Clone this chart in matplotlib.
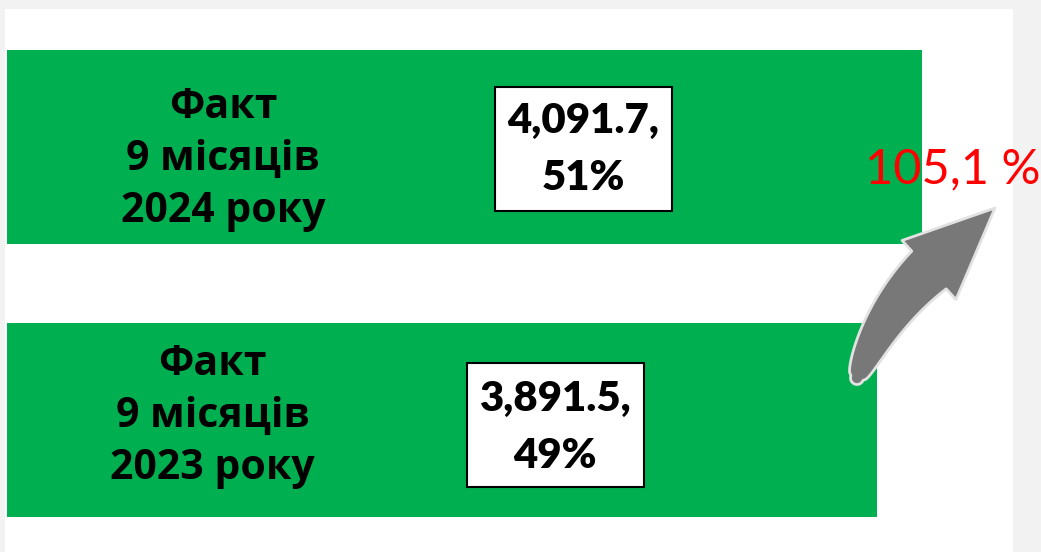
import numpy as np
import matplotlib
matplotlib.use('Agg')
import matplotlib.pyplot as plt
from matplotlib import font_manager as fm
from matplotlib.patches import Rectangle, Polygon
from matplotlib.transforms import Affine2D, ScaledTranslation

# ---------------- data ----------------
categories = ["Факт\n9 місяців\n2024 року", "Факт\n9 місяців\n2023 року"]
values = [4091.7, 3891.5]

total = sum(values)
shares = [round(v / total * 100) for v in values]
value_labels = [f"{v:,.1f},\n{s}%" for v, s in zip(values, shares)]
growth = values[0] / values[1] * 100
growth_label = f"{growth:.1f}".replace('.', ',') + " %"


def font_by_file(basenames, family, weight):
    for b in basenames:
        for f in fm.fontManager.ttflist:
            if f.fname.split('/')[-1] == b:
                return fm.FontProperties(fname=f.fname)
    return fm.FontProperties(family=family, weight=weight)


lato_bold = font_by_file(['Lato-ExtraBold.ttf', 'Lato-Heavy.ttf'], 'Lato', 'bold')
opensans_bold = font_by_file(['OpenSans-Bold.ttf'], 'Open Sans', 'bold')
lato_reg = font_by_file(['Lato-Regular.ttf'], 'Lato', 'normal')

# ---------------- layout / style ----------------
W, H = 1041, 552
GREEN = '#00B050'
fig = plt.figure(figsize=(W / 100, H / 100), dpi=100, facecolor='#f2f2f2')
ax = fig.add_axes([5 / W, 0, 1008 / W, 543 / H])
ax.set_facecolor('white')

ypos = [1, 0]
ax.barh(ypos, values, height=0.711, color=GREEN, zorder=2)
ax.set_xlim(-8.94, 4498.5)
ax.set_ylim(-0.4835, 1.5055)
for s in ax.spines.values():
    s.set_visible(False)
ax.set_xticks([])
ax.set_yticks([])

label_frac, value_frac = 0.236, 0.63
label_dy = [-75, -59]
value_dy = [-43, -48]
box_dy = [-2, -5]
box_w, box_h = 177, 124

for i in range(len(values)):
    fp = opensans_bold.copy()
    fp.set_size(29.5)
    ax.annotate(categories[i], xy=(values[i] * label_frac, ypos[i]),
                xytext=(0, label_dy[i]), textcoords='offset pixels',
                ha='center', va='baseline', multialignment='center',
                fontproperties=fp, linespacing=1.36, color='black', zorder=4)
    cx = values[i] * value_frac
    rect = Rectangle((-box_w / 2, -box_h / 2), box_w, box_h,
                     transform=Affine2D().translate(0, box_dy[i]) +
                     ScaledTranslation(cx, ypos[i], ax.transData),
                     facecolor='white', edgecolor='black', linewidth=1.5, zorder=3)
    ax.add_patch(rect)
    fp2 = lato_bold.copy()
    fp2.set_size(30.2)
    ax.annotate(value_labels[i], xy=(cx, ypos[i]),
                xytext=(0, value_dy[i]), textcoords='offset pixels',
                ha='center', va='baseline', multialignment='center',
                fontproperties=fp2, linespacing=1.62, color='black', zorder=4)

# ---------------- curved arrow (decoration) ----------------
T = np.array([857., 378.])
C = np.array([883., 312.])
N = np.array([929., 270.])
TIP = np.array([995., 208.])
ts = np.linspace(0, 1, 60)
B = ((1 - ts) ** 2)[:, None] * T + (2 * ts * (1 - ts))[:, None] * C + (ts ** 2)[:, None] * N
D = (2 * (1 - ts))[:, None] * (C - T) + (2 * ts)[:, None] * (N - C)
D /= np.linalg.norm(D, axis=1)[:, None]
Nrm = np.stack([D[:, 1], -D[:, 0]], axis=1)
w = 13 + 38 * np.sqrt(ts)
left = B + Nrm * (w / 2)[:, None]
right = B - Nrm * (w / 2)[:, None]
nN = Nrm[-1]
cl = N + nN * 40
cr = N - nN * 40
r0 = w[0] / 2
ang = np.linspace(0, np.pi, 15)
cap = T + r0 * (np.cos(ang)[:, None] * Nrm[0] + np.sin(ang)[:, None] * (-D[0]))
pts = np.vstack([right, [cr], [TIP], [cl], left[::-1], cap])
pts_fig = np.column_stack([pts[:, 0] / W, 1 - pts[:, 1] / H])
arrow = Polygon(pts_fig, closed=True, transform=fig.transFigure,
                facecolor='#787878', edgecolor='#e2e2e2', linewidth=2,
                joinstyle='round', zorder=5)
fig.add_artist(arrow)

fp3 = lato_reg.copy()
fp3.set_size(35)
fig.text(953 / W, 1 - 183 / H, growth_label, ha='center', va='baseline',
         color='#FF0000', fontproperties=fp3, zorder=6)

fig.savefig('out.png', dpi=100, facecolor=fig.get_facecolor())
